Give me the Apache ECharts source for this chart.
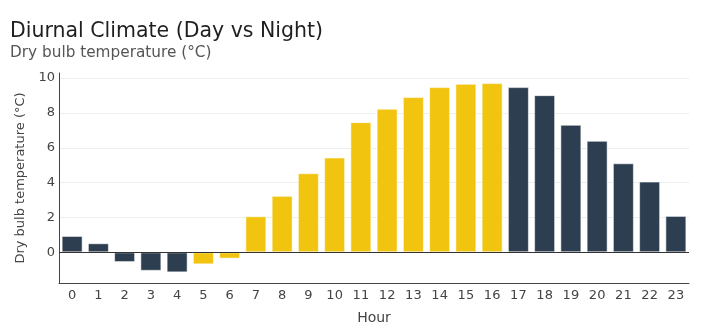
<!DOCTYPE html>
<html>
<head>
<meta charset="utf-8">
<script src="https://cdn.jsdelivr.net/npm/echarts@6/dist/echarts.min.js"></script>
<style>
  html, body { margin: 0; padding: 0; background: #fff; }
  #chart { width: 714px; height: 331px; }
</style>
</head>
<body>
<div id="chart"></div>
<script>
// Hourly dry bulb temperature, split into day and night hours
const hours = ['0','1','2','3','4','5','6','7','8','9','10','11','12','13','14','15','16','17','18','19','20','21','22','23'];
const temps = [0.94, 0.52, -0.56, -1.06, -1.15, -0.69, -0.36, 2.07, 3.24, 4.54, 5.44, 7.47, 8.24, 8.91, 9.48, 9.67, 9.71, 9.48, 9.02, 7.32, 6.40, 5.11, 4.06, 2.09];
const period = ['night','night','night','night','night','day','day','day','day','day','day','day','day','day','day','day','day','night','night','night','night','night','night','night'];
const yTicks = [0, 2, 4, 6, 8, 10];

const periodColor = { day: '#f1c40f', night: '#2c3e50' };
const font = 'DejaVu Sans, Verdana, sans-serif';

const chart = echarts.init(document.getElementById('chart'), null, { renderer: 'canvas' });

chart.setOption({
  animation: false,
  backgroundColor: '#ffffff',
  title: {
    text: 'Diurnal Climate (Day vs Night)',
    subtext: 'Dry bulb temperature (°C)',
    left: 5,
    top: 16,
    itemGap: 4,
    textStyle: { fontFamily: font, fontSize: 20.5, fontWeight: 'normal', color: '#1f1f1f' },
    subtextStyle: { fontFamily: font, fontSize: 15.3, color: '#555555' }
  },
  grid: { left: 59, right: 25, top: 73, bottom: 48, containLabel: false },
  xAxis: {
    type: 'category',
    data: hours,
    name: 'Hour',
    nameLocation: 'middle',
    nameGap: 28,
    nameTextStyle: { fontFamily: font, fontSize: 14, color: '#444444' },
    axisLine: { onZero: false, lineStyle: { color: '#444444', width: 1 } },
    axisTick: { show: false },
    axisLabel: { fontFamily: font, fontSize: 13, color: '#444444', margin: 6 },
    splitLine: { show: false }
  },
  yAxis: {
    type: 'value',
    min: -1.76,
    max: 10.29,
    name: 'Dry bulb temperature (°C)',
    nameLocation: 'middle',
    nameGap: 29,
    nameTextStyle: { fontFamily: font, fontSize: 13, color: '#444444' },
    axisLine: { show: true, lineStyle: { color: '#444444', width: 1 } },
    axisTick: { show: false, customValues: yTicks },
    axisLabel: { fontFamily: font, fontSize: 13, color: '#444444', margin: 4, customValues: yTicks },
    splitLine: { show: true, lineStyle: { color: '#eeeeee', width: 1 } }
  },
  series: [{
    type: 'bar',
    barCategoryGap: '20%',
    data: temps.map((v, i) => ({
      value: v,
      itemStyle: {
        color: periodColor[period[i]],
        borderColor: 'rgba(255,255,255,0.55)',
        borderWidth: 1
      }
    })),
    markLine: {
      silent: true,
      symbol: ['none', 'none'],
      label: { show: false },
      lineStyle: { color: '#333333', width: 1, type: 'solid' },
      data: [{ yAxis: 0 }]
    }
  }]
});
</script>
</body>
</html>
